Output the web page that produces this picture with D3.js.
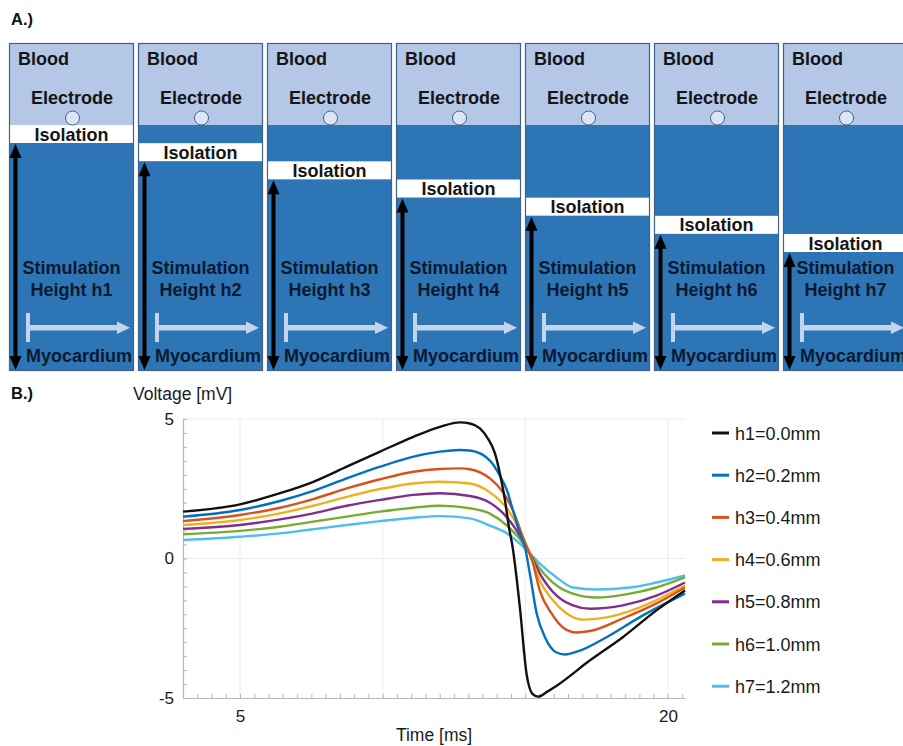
<!DOCTYPE html>
<html>
<head>
<meta charset="utf-8">
<script src="https://cdn.jsdelivr.net/npm/d3@7"></script>
<style>
  html, body { margin: 0; padding: 0; background: #fff; }
  svg { display: block; font-family: "Liberation Sans", Arial, sans-serif; }
</style>
</head>
<body>
<svg id="fig" width="903" height="746"></svg>
<script>
// ---- Panel A: stimulation geometry ----
const panelNames = ["h1", "h2", "h3", "h4", "h5", "h6", "h7"];
const stimHeights = [0.0, 0.2, 0.4, 0.6, 0.8, 1.0, 1.2]; // mm

// ---- Panel B: simulated electrogram, [time ms, voltage mV] ----
const voltH1 = [[3.0,1.68],[5.0,1.94],[6.4,2.34],[7.57,2.75],[8.74,3.29],[9.91,3.83],[11.08,4.36],[12.01,4.72],[12.71,4.88],[13.06,4.84],[13.41,4.66],[13.69,4.3],[13.94,3.76],[14.11,3.05],[14.29,2.08],[14.43,1.1],[14.55,0.45],[14.81,-1.74],[15.04,-4.1],[15.25,-4.85],[15.45,-4.95],[15.76,-4.78],[16.1,-4.56],[17.27,-3.65],[18.42,-2.82],[19.6,-1.86],[20.6,-1.15]];
const voltH2 = [[3.0,1.5],[5.0,1.74],[6.4,2.06],[7.57,2.42],[8.74,2.87],[9.91,3.29],[11.08,3.65],[12.01,3.83],[12.71,3.89],[13.06,3.87],[13.76,3.51],[14.11,2.97],[14.36,2.44],[14.57,1.72],[14.81,0.9],[14.99,0.4],[15.16,-0.54],[15.4,-1.97],[15.69,-2.82],[16.1,-3.37],[16.39,-3.44],[16.92,-3.3],[17.85,-2.82],[19.02,-2.1],[20.6,-1.26]];
const voltH3 = [[3.0,1.34],[5.0,1.56],[6.4,1.82],[7.57,2.13],[8.74,2.51],[9.91,2.84],[11.08,3.11],[12.01,3.21],[12.71,3.23],[13.06,3.2],[13.76,2.87],[14.22,2.37],[14.57,1.72],[14.92,0.75],[15.27,-0.18],[15.51,-1.15],[15.92,-1.97],[16.32,-2.47],[16.8,-2.65],[17.27,-2.6],[18.42,-2.15],[19.6,-1.61],[20.6,-1.04]];
const voltH4 = [[3.0,1.2],[5.0,1.38],[6.4,1.62],[7.57,1.89],[8.74,2.21],[9.91,2.49],[11.08,2.69],[12.01,2.75],[13.06,2.69],[13.76,2.37],[14.36,1.79],[14.81,1.0],[15.16,0.18],[15.51,-0.79],[15.97,-1.5],[16.45,-1.97],[17.02,-2.19],[17.85,-2.11],[19.02,-1.75],[20.6,-0.97]];
const voltH5 = [[3.0,1.06],[5.0,1.2],[6.4,1.4],[7.57,1.62],[8.74,1.89],[9.91,2.1],[11.08,2.28],[12.01,2.34],[13.06,2.24],[13.76,2.0],[14.36,1.47],[14.81,0.82],[15.16,0.18],[15.51,-0.54],[16.1,-1.33],[16.67,-1.68],[17.27,-1.8],[18.42,-1.68],[19.6,-1.33],[20.6,-0.86]];
const voltH6 = [[3.0,0.87],[5.0,0.99],[6.4,1.14],[7.57,1.32],[8.74,1.5],[9.91,1.68],[11.08,1.82],[12.01,1.89],[13.06,1.8],[13.76,1.61],[14.36,1.18],[15.06,0.36],[15.51,-0.36],[16.1,-0.97],[16.67,-1.26],[17.5,-1.4],[18.67,-1.26],[19.6,-1.04],[20.6,-0.68]];
const voltH7 = [[3.0,0.66],[5.0,0.78],[6.4,0.9],[7.57,1.05],[8.74,1.2],[9.91,1.34],[11.08,1.46],[12.01,1.52],[13.06,1.44],[13.76,1.18],[14.36,0.9],[15.06,0.29],[15.51,-0.18],[16.1,-0.68],[16.67,-1.04],[17.5,-1.11],[18.67,-1.04],[19.6,-0.86],[20.6,-0.61]];

const seriesValues = [voltH1, voltH2, voltH3, voltH4, voltH5, voltH6, voltH7];
const legendLabels = ["h1=0.0mm", "h2=0.2mm", "h3=0.4mm", "h4=0.6mm", "h5=0.8mm", "h6=1.0mm", "h7=1.2mm"];
const seriesColors = ["#111111", "#0072BD", "#D95319", "#EDB120", "#7E2F8E", "#77AC30", "#4DBEEE"];

const xMajorLabels = [5, 20];
const xGridValues = [5, 10, 15, 20];
const yMajorLabels = [-5, 0, 5];
const yGridValues = [0, 5];

const svg = d3.select("#fig");

// ================= Panel A =================
const lightBlue = "#b4c7e7", darkBlue = "#2e75b6", edge = "#3f6289";
const navyText = "#0b1a30", topText = "#151515";
const panelW = 125, panelTop = 43, panelBottom = 371, bloodBottom = 125, isoH = 18;

svg.append("text").attr("x", 11).attr("y", 25)
  .attr("font-size", 16.5).attr("font-weight", "bold").attr("fill", "#111").text("A.)");

const panelX = d3.scalePoint().domain(panelNames).range([9, 9 + 129 * 6]);
const isoY = d3.scaleLinear().domain([0, 1.2]).range([bloodBottom, 234]);

const panels = svg.append("g").selectAll("g").data(panelNames).join("g")
  .attr("transform", d => `translate(${panelX(d)},0)`);

panels.append("rect").attr("x", 0).attr("y", panelTop)
  .attr("width", panelW).attr("height", panelBottom - panelTop).attr("fill", darkBlue);
panels.append("rect").attr("x", 0).attr("y", panelTop)
  .attr("width", panelW).attr("height", bloodBottom - panelTop).attr("fill", lightBlue);
panels.append("rect").attr("x", 0).attr("y", (d, i) => isoY(stimHeights[i]))
  .attr("width", panelW).attr("height", isoH).attr("fill", "#ffffff");
panels.append("rect").attr("x", 0.5).attr("y", panelTop + 0.5)
  .attr("width", panelW - 1).attr("height", panelBottom - panelTop - 1)
  .attr("fill", "none").attr("stroke", edge).attr("stroke-width", 1.2);

const boldText = (sel, size) => sel.attr("font-size", size).attr("font-weight", "bold");

panels.append("text").attr("x", 9).attr("y", 65).call(boldText, 18)
  .attr("fill", topText).text("Blood");
panels.append("text").attr("x", 63).attr("y", 104).attr("text-anchor", "middle")
  .call(boldText, 18).attr("fill", topText).text("Electrode");
panels.append("circle").attr("cx", 63.5).attr("cy", 118).attr("r", 7)
  .attr("fill", "#dde6f5").attr("stroke", "#41648f").attr("stroke-width", 1);
panels.append("text").attr("x", panelW / 2).attr("y", (d, i) => isoY(stimHeights[i]) + 15.5)
  .attr("text-anchor", "middle").call(boldText, 18).attr("fill", topText).text("Isolation");

// vertical double-headed arrow spanning the stimulation height
panels.append("path").attr("fill", "#000")
  .attr("d", (d, i) => {
    const cx = 6.5, y0 = isoY(stimHeights[i]) + isoH + 1, y1 = panelBottom - 1;
    const hw = 6, sw = 2, hl = 14;
    return `M${cx},${y0} L${cx + hw},${y0 + hl} L${cx + sw},${y0 + hl} L${cx + sw},${y1 - hl}` +
      ` L${cx + hw},${y1 - hl} L${cx},${y1} L${cx - hw},${y1 - hl} L${cx - sw},${y1 - hl}` +
      ` L${cx - sw},${y0 + hl} L${cx - hw},${y0 + hl} Z`;
  });

panels.append("text").attr("x", panelW / 2).attr("y", 274).attr("text-anchor", "middle")
  .call(boldText, 18).attr("fill", navyText).text("Stimulation");
panels.append("text").attr("x", panelW / 2).attr("y", 296).attr("text-anchor", "middle")
  .call(boldText, 18).attr("fill", navyText).text(d => "Height " + d);

// propagation arrow |-->
const pale = "#c3d4ee";
panels.append("rect").attr("x", 17).attr("y", 313).attr("width", 4).attr("height", 29).attr("fill", pale);
panels.append("rect").attr("x", 21).attr("y", 325).attr("width", 89).attr("height", 5.5).attr("fill", pale);
panels.append("path").attr("fill", pale)
  .attr("d", "M108,321.5 L121,327.8 L108,334 Z");

panels.append("text").attr("x", 17).attr("y", 362).call(boldText, 18)
  .attr("fill", navyText).text("Myocardium");

// ================= Panel B =================
svg.append("text").attr("x", 11).attr("y", 399)
  .attr("font-size", 16.5).attr("font-weight", "bold").attr("fill", "#111").text("B.)");

const x = d3.scaleLinear().domain([3, 20.6]).range([183, 685]);
const y = d3.scaleLinear().domain([-5, 5]).range([698, 419]);

const plot = svg.append("g");

// light grid
plot.append("g").selectAll("line").data(xGridValues).join("line")
  .attr("x1", d => x(d)).attr("x2", d => x(d)).attr("y1", y(5)).attr("y2", y(-5))
  .attr("stroke", "#ececec").attr("stroke-width", 1);
plot.append("g").selectAll("line").data(yGridValues).join("line")
  .attr("x1", x(3)).attr("x2", x(20.6)).attr("y1", d => y(d)).attr("y2", d => y(d))
  .attr("stroke", "#ececec").attr("stroke-width", 1);

// axes with inward minor ticks
const axisColor = "#b5b5b5";
const xMinor = d3.range(3, 20.55, 0.5);
const yMinor = d3.range(-5, 5.01, 0.5);

const gx = plot.append("g").attr("transform", `translate(0,${y(-5)})`)
  .call(d3.axisBottom(x).tickValues(xMinor).tickSizeInner(-4).tickSizeOuter(0).tickFormat(""));
const gy = plot.append("g").attr("transform", `translate(${x(3)},0)`)
  .call(d3.axisLeft(y).tickValues(yMinor).tickSizeInner(-4).tickSizeOuter(0).tickFormat(""));
[gx, gy].forEach(g => {
  g.select(".domain").attr("stroke", axisColor).attr("stroke-width", 1.2);
  g.selectAll(".tick line").attr("stroke", axisColor);
});

const plain = d => String(d);
const gxl = plot.append("g").attr("transform", `translate(0,${y(-5)})`)
  .call(d3.axisBottom(x).tickValues(xMajorLabels).tickFormat(plain).tickSize(0).tickPadding(12));
gxl.select(".domain").remove();
gxl.selectAll("text").attr("font-size", 17).attr("fill", "#1a1a1a")
  .attr("font-family", "Liberation Sans, Arial, sans-serif");

const gyl = plot.append("g").attr("transform", `translate(${x(3)},0)`)
  .call(d3.axisLeft(y).tickValues(yMajorLabels).tickFormat(plain).tickSize(0).tickPadding(9));
gyl.select(".domain").remove();
gyl.selectAll("text").attr("font-size", 17).attr("fill", "#1a1a1a")
  .attr("font-family", "Liberation Sans, Arial, sans-serif");

svg.append("text").attr("x", 133).attr("y", 400).attr("font-size", 17.5)
  .attr("fill", "#1a1a1a").text("Voltage [mV]");
svg.append("text").attr("x", 434).attr("y", 741).attr("text-anchor", "middle")
  .attr("font-size", 17.5).attr("fill", "#1a1a1a").text("Time [ms]");

// curves (draw h7 first so h1 sits on top)
const line = d3.line().x(d => x(d[0])).y(d => y(d[1])).curve(d3.curveMonotoneX);
plot.append("g").selectAll("path").data(seriesValues.map((v, i) => ({ v, i })).reverse()).join("path")
  .attr("d", d => line(d.v))
  .attr("fill", "none").attr("stroke", d => seriesColors[d.i])
  .attr("stroke-width", 2.4).attr("stroke-linejoin", "round");

// legend
const legend = svg.append("g").selectAll("g").data(legendLabels).join("g")
  .attr("transform", (d, i) => `translate(712,${433 + i * 42.2})`);
legend.append("line").attr("x1", 0).attr("x2", 17).attr("y1", 0).attr("y2", 0)
  .attr("stroke", (d, i) => seriesColors[i]).attr("stroke-width", 3);
legend.append("text").attr("x", 23).attr("y", 6.5).attr("font-size", 18)
  .attr("fill", "#1a1a1a").text(d => d);
</script>
</body>
</html>
